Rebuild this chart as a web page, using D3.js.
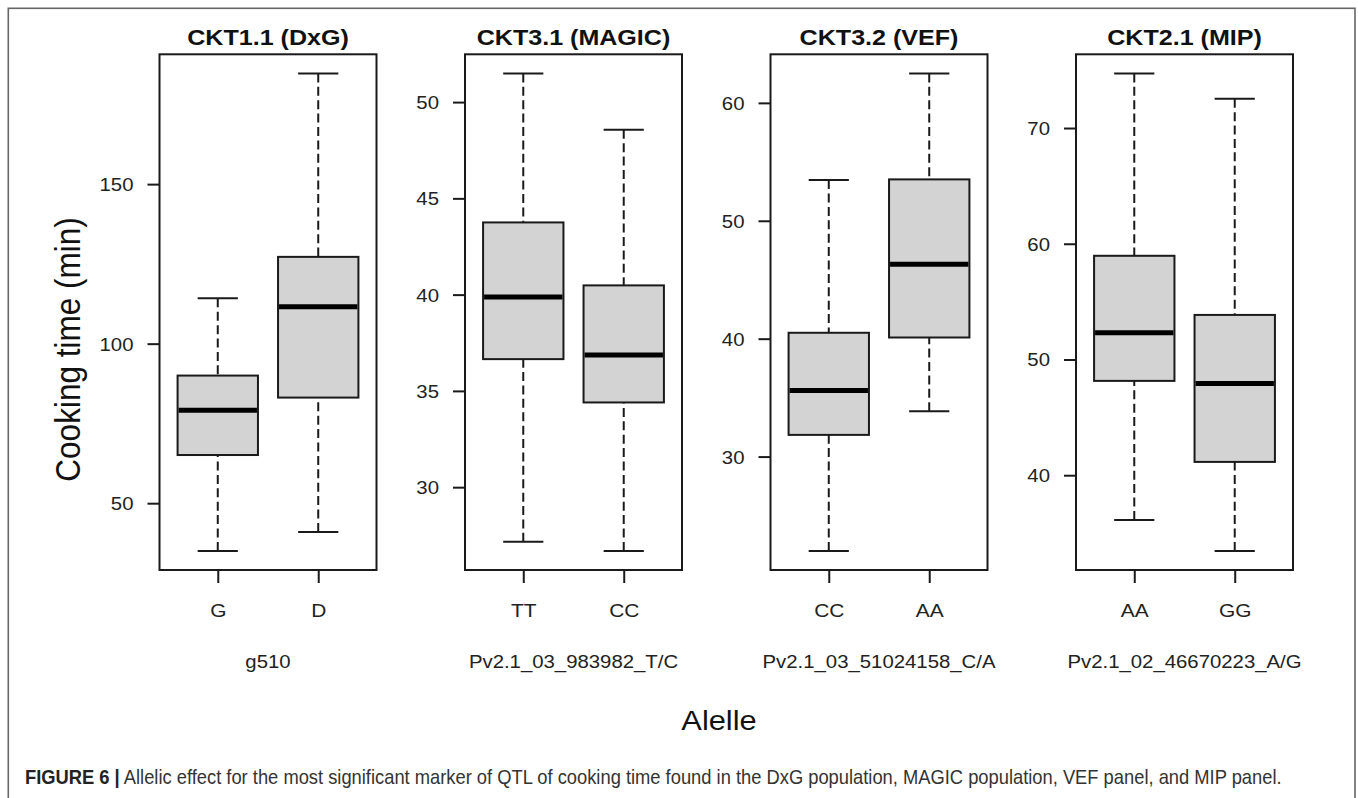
<!DOCTYPE html>
<html>
<head>
<meta charset="utf-8">
<script src="https://cdn.jsdelivr.net/npm/d3@7"></script>
<style>
  html, body { margin: 0; padding: 0; background: #ffffff; }
  svg { display: block; }
  text { font-family: "Liberation Sans", Arial, Helvetica, sans-serif; }
</style>
</head>
<body>
<svg id="chart" width="1358" height="798"></svg>
<script>
// ---------------- data ----------------
const panelTitles = ["CKT1.1 (DxG)", "CKT3.1 (MAGIC)", "CKT3.2 (VEF)", "CKT2.1 (MIP)"];
const markerNames = ["g510", "Pv2.1_03_983982_T/C", "Pv2.1_03_51024158_C/A", "Pv2.1_02_46670223_A/G"];
const alleleLabels = [["G", "D"], ["TT", "CC"], ["CC", "AA"], ["AA", "GG"]];

// five-number summaries: [lower whisker, Q1, median, Q3, upper whisker]
const dxgStats   = [[35.05, 65.1, 79.1, 90.0, 114.2], [41.0, 83.1, 111.6, 127.2, 184.7]];
const magicStats = [[27.16, 36.65, 39.88, 43.75, 51.49], [26.69, 34.4, 36.87, 40.48, 48.56]];
const vefStats   = [[22.0, 31.84, 35.6, 40.5, 53.45], [33.85, 40.1, 46.32, 53.51, 62.5]];
const mipStats   = [[36.14, 48.15, 52.3, 58.96, 74.72], [33.46, 41.15, 47.93, 53.85, 72.53]];

const dxgTicks   = [50, 100, 150];
const magicTicks = [30, 35, 40, 45, 50];
const vefTicks   = [30, 40, 50, 60];
const mipTicks   = [40, 50, 60, 70];

const yAxisTitle = "Cooking time (min)";
const xAxisTitle = "Alelle";
const captionBold = "FIGURE 6 |";
const captionText = " Allelic effect for the most significant marker of QTL of cooking time found in the DxG population, MAGIC population, VEF panel, and MIP panel.";

const panelStats = [dxgStats, magicStats, vefStats, mipStats];
const panelTicks = [dxgTicks, magicTicks, vefTicks, mipTicks];

// ---------------- layout ----------------
const SX = 1.1;            // horizontal stretch seen in the figure's text
const ink = "#1a1a1a";
const boxFill = "#d3d3d3";
const plotTop = 54.3, plotBottom = 570;
const plotW = 217, firstLeft = 159.5, panelStep = 305.5;

const svg = d3.select("#chart");

// outer figure frame
svg.append("rect")
  .attr("x", 8.3).attr("y", 8.3)
  .attr("width", 1355 - 8.3).attr("height", 820)
  .attr("fill", "none").attr("stroke", "#666").attr("stroke-width", 1.6);

function stretchText(sel, tx, ty, sx) {
  return sel.attr("x", 0).attr("y", 0)
    .attr("transform", `translate(${tx},${ty}) scale(${sx},1)`);
}

panelStats.forEach((stats, p) => {
  const left = firstLeft + p * panelStep;
  const right = left + plotW;
  const all = stats.flat();
  const lo = d3.min(all), hi = d3.max(all);
  const pad = (hi - lo) * 0.04;
  const y = d3.scaleLinear().domain([lo - pad, hi + pad]).range([plotBottom, plotTop]);
  const x = d3.scaleLinear().domain([0.42, 2.58]).range([left, right]);
  const unit = x(2) - x(1);
  const boxW = 0.8 * unit;
  const capW = boxW / 2;

  const g = svg.append("g");

  // boxes
  stats.forEach((s, i) => {
    const cx = x(i + 1);
    // whiskers (dashed), drawn from whisker end to hinge
    [[s[0], s[1]], [s[4], s[3]]].forEach(([a, b]) => {
      g.append("line")
        .attr("x1", cx).attr("x2", cx)
        .attr("y1", y(a)).attr("y2", y(b))
        .attr("stroke", ink).attr("stroke-width", 2)
        .attr("stroke-dasharray", "9,4.4");
    });
    // caps
    [s[0], s[4]].forEach(v => {
      g.append("line")
        .attr("x1", cx - capW / 2).attr("x2", cx + capW / 2)
        .attr("y1", y(v)).attr("y2", y(v))
        .attr("stroke", ink).attr("stroke-width", 2);
    });
    // box
    g.append("rect")
      .attr("x", cx - boxW / 2).attr("width", boxW)
      .attr("y", y(s[3])).attr("height", y(s[1]) - y(s[3]))
      .attr("fill", boxFill).attr("stroke", ink).attr("stroke-width", 2);
    // median
    g.append("line")
      .attr("x1", cx - boxW / 2 + 1).attr("x2", cx + boxW / 2 - 1)
      .attr("y1", y(s[2])).attr("y2", y(s[2]))
      .attr("stroke", "#000").attr("stroke-width", 5);
  });

  // plot frame
  g.append("rect")
    .attr("x", left).attr("y", plotTop)
    .attr("width", plotW).attr("height", plotBottom - plotTop)
    .attr("fill", "none").attr("stroke", ink).attr("stroke-width", 2);

  // y axis
  const ya = g.append("g")
    .attr("transform", `translate(${left},0)`)
    .call(d3.axisLeft(y).tickValues(panelTicks[p]).tickSize(12).tickFormat(d3.format("d")));
  ya.select(".domain").remove();
  ya.selectAll(".tick line").attr("stroke", ink).attr("stroke-width", 2);
  ya.selectAll(".tick text").each(function () {
    stretchText(d3.select(this), -26, 0, SX)
      .attr("dy", "0.35em").attr("text-anchor", "end")
      .attr("font-size", 18.5).attr("fill", "#222");
  });

  // x axis
  const xa = g.append("g")
    .attr("transform", `translate(0,${plotBottom})`)
    .call(d3.axisBottom(x).tickValues([1, 2]).tickSize(13)
      .tickFormat(d => alleleLabels[p][d - 1]));
  xa.select(".domain").remove();
  xa.selectAll(".tick line").attr("stroke", ink).attr("stroke-width", 2);
  xa.selectAll(".tick text").each(function () {
    stretchText(d3.select(this), 0, 47, SX)
      .attr("dy", 0).attr("text-anchor", "middle")
      .attr("font-size", 19).attr("fill", "#222");
  });

  const cxPlot = (left + right) / 2;
  // panel title
  stretchText(g.append("text"), cxPlot, 44.5, SX)
    .attr("text-anchor", "middle")
    .attr("font-size", 22.8).attr("font-weight", "bold").attr("fill", "#111")
    .text(panelTitles[p]);

  // marker name
  stretchText(g.append("text"), cxPlot, 667.5, SX)
    .attr("text-anchor", "middle")
    .attr("font-size", 18.5).attr("fill", "#222")
    .text(markerNames[p]);
});

// y axis title
svg.append("text")
  .attr("transform", `translate(80,349.5) scale(${SX},1) rotate(-90)`)
  .attr("text-anchor", "middle")
  .attr("font-size", 31.5).attr("fill", "#111")
  .text(yAxisTitle);

// x axis title
stretchText(svg.append("text"), 719, 729.7, SX)
  .attr("text-anchor", "middle")
  .attr("font-size", 28).attr("fill", "#111")
  .text(xAxisTitle);

// caption
const cap = stretchText(svg.append("text"), 25, 784, 0.917)
  .attr("font-size", 20).attr("fill", "#333");
cap.append("tspan").attr("font-weight", "bold").attr("fill", "#222").text(captionBold);
cap.append("tspan").text(captionText);
</script>
</body>
</html>
